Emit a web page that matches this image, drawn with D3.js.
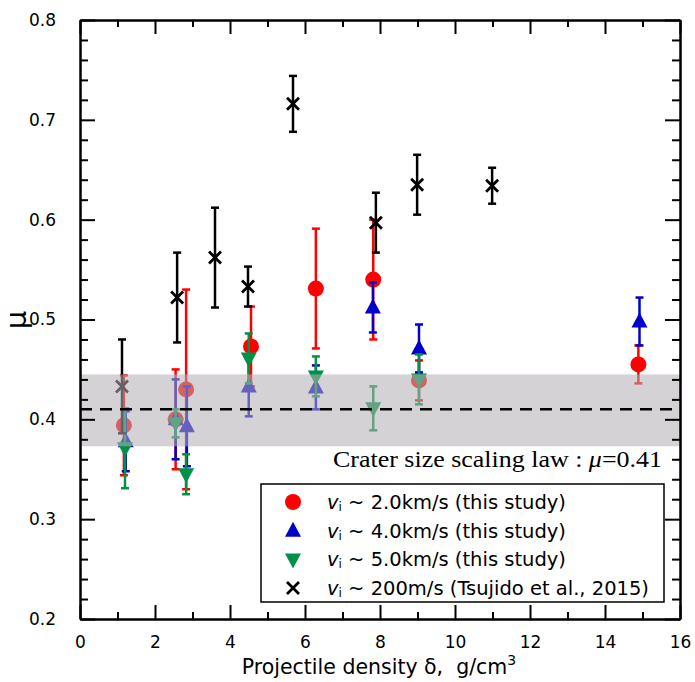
<!doctype html>
<html>
  <head>
    <script src="https://cdnjs.cloudflare.com/ajax/libs/d3/7.8.5/d3.min.js"></script>
    <style>
      body { margin: 0; background: #fff; }
      text { font-family: "DejaVu Sans", sans-serif; }
    </style>
  </head>
  <body>
    <svg width="695" height="682"></svg>
    <script>
      // density, mu, error
      var red   = [[1.17,0.394,0.05],[2.55,0.400,0.05],[2.83,0.430,0.10],[4.56,0.473,0.04],[6.29,0.531,0.06],[7.82,0.540,0.06],[9.04,0.439,0.02],[14.89,0.455,0.019]];
      var blue  = [[1.22,0.378,0.03],[2.55,0.400,0.04],[2.85,0.393,0.04],[4.5,0.433,0.03],[6.29,0.432,0.022],[7.81,0.512,0.025],[9.04,0.471,0.024],[14.92,0.498,0.024]];
      var green = [[1.2,0.371,0.04],[2.55,0.396,0.014],[2.83,0.345,0.02],[4.5,0.461,0.025],[6.29,0.443,0.02],[7.82,0.411,0.022],[9.04,0.440,0.025]];
      var black = [[1.12,0.433,0.047],[2.59,0.522,0.045],[3.6,0.562,0.05],[4.48,0.533,0.02],[5.68,0.716,0.028],[7.89,0.597,0.03],[8.99,0.635,0.03],[10.99,0.634,0.018]];
      var band = [0.373, 0.445];
      var muLaw = 0.41;
      var legendLabels = [" ~ 2.0km/s (this study)", " ~ 4.0km/s (this study)", " ~ 5.0km/s (this study)", " ~ 200m/s (Tsujido et al., 2015)"];

      var svg = d3.select("svg");
      var x = d3.scaleLinear().domain([0, 16]).range([80, 680]);
      var y = d3.scaleLinear().domain([0.2, 0.8]).range([619, 20]);

      var plot = svg.append("g");

      function errorBars(data, color) {
        var g = plot.append("g").attr("stroke", color).attr("stroke-width", 2.5);
        data.forEach(function(d) {
          var cx = x(d[0]);
          g.append("line").attr("x1", cx).attr("x2", cx).attr("y1", y(d[1] - d[2])).attr("y2", y(d[1] + d[2]));
          g.append("line").attr("x1", cx - 4).attr("x2", cx + 4).attr("y1", y(d[1] - d[2])).attr("y2", y(d[1] - d[2]));
          g.append("line").attr("x1", cx - 4).attr("x2", cx + 4).attr("y1", y(d[1] + d[2])).attr("y2", y(d[1] + d[2]));
        });
      }

      function marker(g, type, color, cx, cy) {
        if (type == "circle") {
          g.append("circle").attr("cx", cx).attr("cy", cy).attr("r", 8).attr("fill", color);
        } else if (type == "up") {
          g.append("path").attr("d", "M" + cx + "," + (cy - 9) + "L" + (cx + 8) + "," + (cy + 6) + "L" + (cx - 8) + "," + (cy + 6) + "Z").attr("fill", color);
        } else if (type == "down") {
          g.append("path").attr("d", "M" + cx + "," + (cy + 9) + "L" + (cx + 8) + "," + (cy - 6) + "L" + (cx - 8) + "," + (cy - 6) + "Z").attr("fill", color);
        } else {
          g.append("path").attr("d", "M" + (cx - 6) + "," + (cy - 6) + "L" + (cx + 6) + "," + (cy + 6) + "M" + (cx + 6) + "," + (cy - 6) + "L" + (cx - 6) + "," + (cy + 6))
            .attr("stroke", color).attr("stroke-width", 2.8).attr("fill", "none");
        }
      }

      var series = [
        {data: red, color: "#ff0000", type: "circle"},
        {data: blue, color: "#0000cc", type: "up"},
        {data: green, color: "#009148", type: "down"},
        {data: black, color: "#000000", type: "cross"}
      ];

      series.forEach(function(s) {
        errorBars(s.data, s.color);
        var g = plot.append("g");
        s.data.forEach(function(d) { marker(g, s.type, s.color, x(d[0]), y(d[1])); });
      });

      // translucent band drawn over the points
      plot.append("rect")
        .attr("x", x(0)).attr("width", x(16) - x(0))
        .attr("y", y(band[1])).attr("height", y(band[0]) - y(band[1]))
        .attr("fill", "rgb(178,175,178)").attr("fill-opacity", 0.56);

      plot.append("line")
        .attr("x1", x(0)).attr("x2", x(16)).attr("y1", y(muLaw)).attr("y2", y(muLaw))
        .attr("stroke", "#000").attr("stroke-width", 2.5).attr("stroke-dasharray", "12,8");

      // axes with inward ticks on all sides
      var majX = d3.range(0, 17, 2), minX = d3.range(1, 16, 2);
      var majY = d3.range(0.2, 0.81, 0.1), minY = d3.range(0.22, 0.8, 0.02).filter(function(v) { return Math.abs(v * 10 - Math.round(v * 10)) > 0.01; });

      function styleAxis(g) {
        g.selectAll("path,line").attr("stroke", "#000").attr("stroke-width", 2);
        g.selectAll("text").attr("font-size", 17).attr("fill", "#000").style("font-family", "DejaVu Sans, sans-serif");
      }

      svg.append("g").attr("transform", "translate(0,619)")
        .call(d3.axisBottom(x).tickValues(majX).tickSizeInner(-14).tickSizeOuter(0).tickPadding(17).tickFormat(d3.format("d")))
        .call(styleAxis);
      svg.append("g").attr("transform", "translate(0,619)")
        .call(d3.axisBottom(x).tickValues(minX).tickSizeInner(-7).tickSizeOuter(0).tickFormat(""))
        .call(styleAxis);
      svg.append("g").attr("transform", "translate(0,20)")
        .call(d3.axisTop(x).tickValues(majX).tickSizeInner(-14).tickSizeOuter(0).tickFormat(""))
        .call(styleAxis);
      svg.append("g").attr("transform", "translate(0,20)")
        .call(d3.axisTop(x).tickValues(minX).tickSizeInner(-7).tickSizeOuter(0).tickFormat(""))
        .call(styleAxis);
      svg.append("g").attr("transform", "translate(80,0)")
        .call(d3.axisLeft(y).tickValues(majY).tickSizeInner(-15).tickSizeOuter(0).tickPadding(24).tickFormat(d3.format(".1f")))
        .call(styleAxis);
      svg.append("g").attr("transform", "translate(80,0)")
        .call(d3.axisLeft(y).tickValues(minY).tickSizeInner(-8).tickSizeOuter(0).tickFormat(""))
        .call(styleAxis);
      svg.append("g").attr("transform", "translate(680,0)")
        .call(d3.axisRight(y).tickValues(majY).tickSizeInner(-15).tickSizeOuter(0).tickFormat(""))
        .call(styleAxis);
      svg.append("g").attr("transform", "translate(680,0)")
        .call(d3.axisRight(y).tickValues(minY).tickSizeInner(-8).tickSizeOuter(0).tickFormat(""))
        .call(styleAxis);

      // axis titles
      var xt = svg.append("text").attr("x", 379).attr("y", 674).attr("text-anchor", "middle").attr("font-size", 20.5)
        .attr("xml:space", "preserve");
      xt.append("tspan").text("Projectile density δ,\u00a0 g/cm");
      xt.append("tspan").attr("dy", -9).attr("font-size", 14).text("3");

      svg.append("text").attr("transform", "translate(26,320) rotate(-90)")
        .attr("text-anchor", "middle").attr("font-size", 29).text("μ");

      // annotation
      var ann = svg.append("text").attr("x", 333).attr("y", 467)
        .attr("textLength", 329).attr("lengthAdjust", "spacingAndGlyphs")
        .style("font-family", "Liberation Serif, serif").attr("font-size", 23);
      ann.append("tspan").text("Crater size scaling law : ");
      ann.append("tspan").attr("font-style", "italic").text("μ");
      ann.append("tspan").text("=" + muLaw);

      // legend
      var lg = svg.append("g");
      lg.append("rect").attr("x", 261).attr("y", 484).attr("width", 403).attr("height", 118)
        .attr("fill", "#fff").attr("stroke", "#000").attr("stroke-width", 1.5);
      series.forEach(function(s, i) {
        var ly = 502 + i * 28.7;
        marker(lg, s.type, s.color, 293, ly);
        var t = lg.append("text").attr("x", 327).attr("y", ly + 7).attr("font-size", 19.5);
        t.append("tspan").attr("font-style", "italic").text("v");
        t.append("tspan").attr("font-size", 12).attr("dy", 2).text("i");
        t.append("tspan").attr("dy", -2).text(legendLabels[i]);
      });
    </script>
  </body>
</html>
